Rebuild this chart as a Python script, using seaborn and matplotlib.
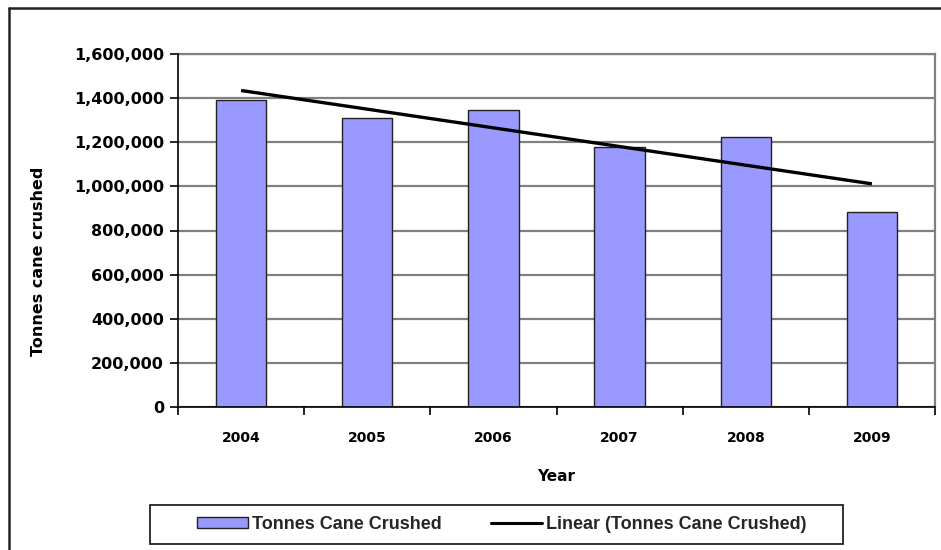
import numpy as np
import pandas as pd
import matplotlib
matplotlib.use("Agg")
import matplotlib.pyplot as plt
import seaborn as sns
from matplotlib.ticker import FuncFormatter, FixedLocator
from matplotlib.patches import Patch, Rectangle
from matplotlib.lines import Line2D

# Annual cane crushed (tonnes)
years = ["2004", "2005", "2006", "2007", "2008", "2009"]
tonnes = [1393000, 1311000, 1345000, 1179000, 1224000, 886000]
yticks = [0, 200000, 400000, 600000, 800000, 1000000, 1200000, 1400000, 1600000]

sns.set_theme(style="white")
plt.rcParams["font.family"] = ["DejaVu Sans"]
plt.rcParams["font.weight"] = "bold"

W, H = 941, 550
fig = plt.figure(figsize=(W / 100, H / 100), dpi=100)
fig.patch.set_facecolor("white")

# Plot area in pixel terms
left, right, top, bottom = 178, 935, 54, 407
ax = fig.add_axes([left / W, 1 - bottom / H, (right - left) / W, (bottom - top) / H])

df = pd.DataFrame({"Year": years, "Tonnes": tonnes})
sns.barplot(data=df, x="Year", y="Tonnes", color="#9999ff", saturation=1,
            width=0.4, edgecolor="#222222", linewidth=1.0, ax=ax, zorder=3)

# Linear trend fitted to the annual values
pos = np.arange(len(years))
coef = np.polyfit(pos, np.array(tonnes, dtype=float), 1)
ax.plot(pos, np.polyval(coef, pos), color="black", lw=2.4, zorder=4,
        solid_capstyle="butt")

ax.set_xlim(-0.5, len(years) - 0.5)
ax.set_ylim(0, 1600000)
ax.yaxis.set_major_locator(FixedLocator(yticks))
ax.yaxis.set_major_formatter(FuncFormatter(lambda v, p: f"{v:,.0f}"))
ax.grid(axis="y", color="#808080", lw=1.6, zorder=0)
ax.grid(axis="x", visible=False)
ax.set_axisbelow(True)

for s in ["left", "bottom"]:
    ax.spines[s].set_color("black")
    ax.spines[s].set_linewidth(1.2)
    ax.spines[s].set_zorder(5)
for s in ["top", "right"]:
    ax.spines[s].set_color("#808080")
    ax.spines[s].set_linewidth(1.6)

ax.tick_params(axis="y", direction="out", length=6, width=1.2, color="black",
               pad=4, labelsize=11.5, labelcolor="black", left=True)
ax.xaxis.set_minor_locator(FixedLocator(np.arange(-0.5, len(years), 1.0)))
ax.tick_params(axis="x", which="minor", direction="out", length=6, width=1.2,
               color="black", bottom=True)
ax.tick_params(axis="x", which="major", length=0, pad=17, labelsize=10,
               labelcolor="black")
for t in ax.get_xticklabels() + ax.get_yticklabels():
    t.set_fontweight("bold")

ax.set_xlabel("Year", fontsize=11, fontweight="bold", color="black")
ax.set_ylabel("Tonnes cane crushed", fontsize=11.5, fontweight="bold", color="black")
ax.xaxis.set_label_coords(0.5, (bottom - 469) / (bottom - top))
ax.yaxis.set_label_coords((46 - left) / (right - left), (bottom - 261) / (bottom - top))

# Outer chart border (left and top edges)
fig.add_artist(Line2D([9 / W, 9 / W], [0, 1 - 8 / H], transform=fig.transFigure,
                      color="#222222", lw=1.8))
fig.add_artist(Line2D([9 / W, 1], [1 - 8 / H, 1 - 8 / H], transform=fig.transFigure,
                      color="#222222", lw=1.8))

# Legend frame and entries
lx0, lx1, ly0, ly1 = 150, 843, 505, 544
fig.add_artist(Rectangle((lx0 / W, 1 - ly1 / H), (lx1 - lx0) / W, (ly1 - ly0) / H,
                         transform=fig.transFigure, fill=False,
                         edgecolor="#222222", lw=1.3))
handles = [Patch(facecolor="#9999ff", edgecolor="#222222", lw=1.0),
           Line2D([0], [0], color="black", lw=2.2)]
labels = ["Tonnes Cane Crushed", "Linear (Tonnes Cane Crushed)"]
fig.legend(handles, labels, loc="center",
           bbox_to_anchor=(502 / W, 1 - (ly0 + ly1) / 2 / H),
           ncol=2, frameon=False,
           prop={"family": "Liberation Sans", "weight": "bold", "size": 13},
           handlelength=2.8, handleheight=0.5, handletextpad=0.25, columnspacing=2.7,
           borderpad=0.0)

fig.savefig("out.png", dpi=100, facecolor="white")
